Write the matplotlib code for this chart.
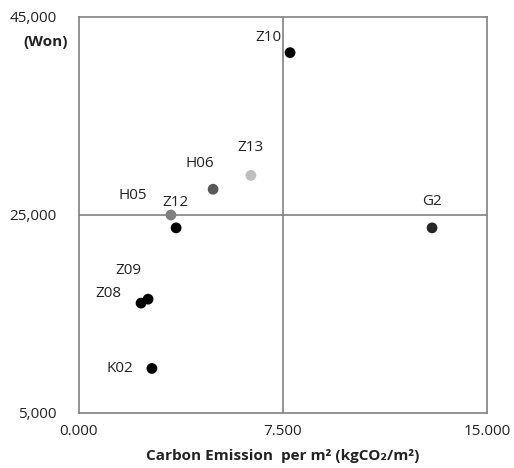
import numpy as np
import matplotlib.pyplot as plt
from matplotlib.ticker import FuncFormatter

plt.rcParams['font.family'] = ['Open Sans', 'DejaVu Sans']

# data
names = ['Z10', 'Z13', 'H06', 'H05', 'Z12', 'G2', 'Z09', 'Z08', 'K02']
carbon = [7.76, 6.32, 4.93, 3.38, 3.57, 12.98, 2.54, 2.28, 2.68]
price = [41400, 29000, 27600, 25000, 23700, 23700, 16500, 16100, 9500]
colors = ['#000000', '#bfbfbf', '#595959', '#7f7f7f', '#000000', '#262626', '#000000', '#000000', '#000000']
# label offsets in pixels
offsets = [(-22, 15), (0, 28), (-13, 26), (-38, 19), (-1, 25), (0, 26), (-20, 29), (-33, 10), (-32, 0)]

fig = plt.figure(figsize=(5.14, 4.68), dpi=100)
ax = fig.add_axes([79/514, 1-413/468, 408/514, 396/468])

ax.scatter(carbon, price, s=60, c=colors, zorder=3, edgecolors='none')
for n, x, y, off in zip(names, carbon, price, offsets):
    ax.annotate(n, (x, y), xytext=off, textcoords='offset pixels',
                ha='center', va='center', fontsize=11, color='#222222')

ax.axvline(7.5, color='#808080', lw=1.2, zorder=1)
ax.axhline(25000, color='#808080', lw=1.2, zorder=1)

ax.set_xlim(0, 15)
ax.set_ylim(5000, 45000)
ax.set_xticks([0, 7.5, 15])
ax.set_yticks([5000, 25000, 45000])
ax.xaxis.set_major_formatter(FuncFormatter(lambda v, p: f"{v:.3f}"))
ax.yaxis.set_major_formatter(FuncFormatter(lambda v, p: f"{v:,.0f}"))
ax.tick_params(length=0, labelsize=11, colors='#222222')
ax.tick_params(axis='y', pad=16)
ax.tick_params(axis='x', pad=8)
for s in ax.spines.values():
    s.set_color('#808080')
    s.set_linewidth(1.2)

ax.set_xlabel('Carbon Emission  per m² (kgCO₂/m²)', fontsize=11, fontweight='bold',
              color='#222222', labelpad=7)
fig.text(68/514, 1-42/468, '(Won)', ha='right', va='center', fontsize=11,
         fontweight='bold', color='#222222')

plt.savefig('out.png', dpi=100)
